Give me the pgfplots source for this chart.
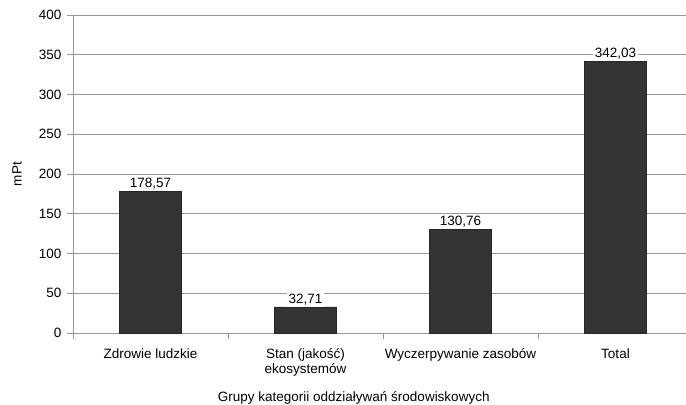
\documentclass[border=0pt]{standalone}
\usepackage{pgfplots}
\pgfplotsset{compat=1.18}
\usepackage{fontspec}
\setmainfont{Liberation Sans}
\definecolor{barc}{RGB}{51,51,51}
\definecolor{gridc}{RGB}{150,150,150}
\begin{document}
\fontsize{13.5bp}{15.5bp}\selectfont
\begin{tikzpicture}
\begin{axis}[
  name=ax,
  at={(0,0)}, anchor=south west,
  scale only axis, width=613bp, height=318bp,
  xmin=-0.5, xmax=3.455, ymin=0, ymax=400,
  ytick={0,50,...,400},
  ymajorgrids, grid style={gridc, line width=0.8pt},
  axis x line*=bottom, axis y line*=left,
  axis line style={gridc, line width=0.8pt},
  tick align=outside, major tick length=6bp,
  ytick style={draw=gridc, line width=0.8pt},
  xtick={0,1,2,3},
  xticklabels={Zdrowie ludzkie,{Stan (jakość)\\ekosystemów},Wyczerpywanie zasobów,Total},
  xtick style={draw=none},
  extra x ticks={-0.5,0.5,1.5,2.5},
  extra x tick labels={},
  extra x tick style={grid=none, xtick style={draw=gridc, line width=0.8pt}},
  xticklabel style={align=center, yshift=-5bp},
  yticklabel style={xshift=-1bp},
  /pgf/number format/assume math mode=true,
  ticklabel style={font=\fontsize{13.5bp}{15bp}\selectfont},
  label style={font=\fontsize{13.5bp}{15.5bp}\selectfont},
  xlabel={Grupy kategorii oddziaływań środowiskowych},
  xlabel style={at={(axis description cs:0.458,0)}, anchor=base, yshift=-68bp},
  ylabel={mPt},
  ylabel style={at={(axis description cs:-0.0914,0.5)}, anchor=center},
  ybar, bar width=62bp,
  nodes near coords={\pgfmathprintnumber[fixed,fixed zerofill,precision=2,use comma]{\pgfplotspointmeta}},
  nodes near coords style={fill=white, inner sep=2bp, anchor=south, font=\fontsize{13.5bp}{15.5bp}\selectfont},
]
\addplot[fill=barc, draw=black!85, line width=0.5pt] coordinates {(0,178.57) (1,32.71) (2,130.76) (3,342.03)};
\end{axis}
\pgfresetboundingbox
\path[use as bounding box] ([shift={(-73bp,-72bp)}]ax.south west) rectangle ([shift={(613bp,333bp)}]ax.south west);
\end{tikzpicture}
\end{document}
